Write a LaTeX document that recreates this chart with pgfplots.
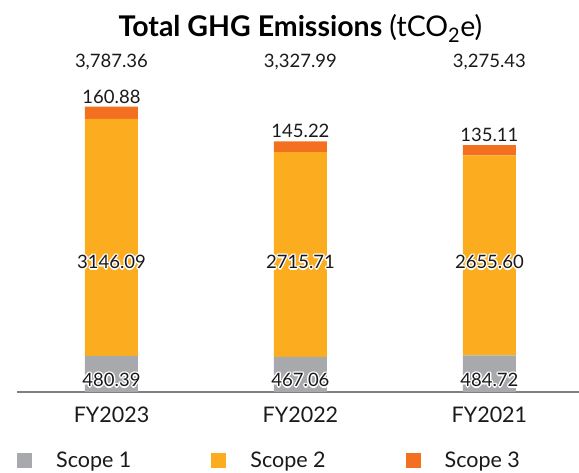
\documentclass[border=0pt]{standalone}
\usepackage{pgfplots}
\pgfplotsset{compat=1.18}
\usepackage{fontspec}
\setmainfont{Lato}
\definecolor{sone}{HTML}{A7A9AC}
\definecolor{stwo}{HTML}{FBAD1F}
\definecolor{sthree}{HTML}{F37021}
\definecolor{txt}{HTML}{1A1A1A}
\tikzset{lab/.style={font=\fontsize{18.5}{22}\selectfont, inner sep=0pt}}
\newcommand{\hlabel}[3]{%
\node[lab, text=white] at (axis cs:#1,#2) [xshift=-1.4pt] {#3};
\node[lab, text=white] at (axis cs:#1,#2) [xshift=1.4pt] {#3};
\node[lab, text=white] at (axis cs:#1,#2) [yshift=1.4pt] {#3};
\node[lab, text=white] at (axis cs:#1,#2) [yshift=-1.4pt] {#3};
\node[lab, text=white] at (axis cs:#1,#2) [xshift=-1pt, yshift=1pt] {#3};
\node[lab, text=white] at (axis cs:#1,#2) [xshift=1pt, yshift=1pt] {#3};
\node[lab, text=white] at (axis cs:#1,#2) [xshift=-1pt, yshift=-1pt] {#3};
\node[lab, text=white] at (axis cs:#1,#2) [xshift=1pt, yshift=-1pt] {#3};
\node[lab, text=txt] at (axis cs:#1,#2) {#3};}
\pgfplotsset{base/.style={scale only axis, width=562pt, height=392pt,
  xmin=-0.5, xmax=2.474, ymin=0, ymax=5203, clip=false}}
\begin{document}
\begin{tikzpicture}
\path[use as bounding box] (-17pt,-81pt) rectangle (562pt,392pt);
\begin{axis}[
  base,
  ybar stacked, bar width=53pt,
  axis y line=none, axis x line*=bottom,
  x axis line style={draw=black!50, line width=1.1pt},
  xtick={0,1,2}, xticklabels={FY2023,FY2022,FY2021}, major tick length=0pt,
  xticklabel style={font=\fontsize{21.5}{25}\selectfont, text=txt, anchor=center, yshift=-23pt},
  legend style={draw=none, fill=none, legend columns=3,
    at={(axis description cs:0,-0.1735)}, anchor=west, inner sep=0pt,
    nodes={inner sep=0pt}, font=\fontsize{21.5}{25}\selectfont, text=txt,
    /tikz/every odd column/.append style={column sep=24pt},
    /tikz/every even column/.append style={column sep=80pt}},
  legend cell align=left,
  legend image code/.code={\fill[#1] (0pt,-7.5pt) rectangle (15pt,7.5pt);},
]
\addplot[fill=sone, draw=none] coordinates {(0,480.39) (1,467.06) (2,484.72)};
\addplot[fill=stwo, draw=none] coordinates {(0,3146.09) (1,2715.71) (2,2655.60)};
\addplot[fill=sthree, draw=none] coordinates {(0,160.88) (1,145.22) (2,135.11)};
\legend{Scope 1,Scope 2,Scope 3}
\end{axis}
\begin{axis}[base, hide axis]
% title
\node[font=\fontsize{28.5}{32}\selectfont, text=black] at (axis cs:1,4830) {\textbf{Total GHG Emissions} (tCO\textsubscript{2}e)};
% totals
\node[lab, text=txt] at (axis cs:0,4379) {3,787.36};
\node[lab, text=txt] at (axis cs:1,4379) {3,327.99};
\node[lab, text=txt] at (axis cs:2,4379) {3,275.43};
% scope 3
\node[lab, text=txt] at (axis cs:0,3920) {160.88};
\node[lab, text=txt] at (axis cs:1,3461) {145.22};
\node[lab, text=txt] at (axis cs:2,3408) {135.11};
% scope 2
\hlabel{0}{1725}{3146.09}
\hlabel{1}{1725}{2715.71}
\hlabel{2}{1725}{2655.60}
% scope 1
\hlabel{0}{159}{480.39}
\hlabel{1}{159}{467.06}
\hlabel{2}{159}{484.72}
\end{axis}
\end{tikzpicture}
\end{document}
